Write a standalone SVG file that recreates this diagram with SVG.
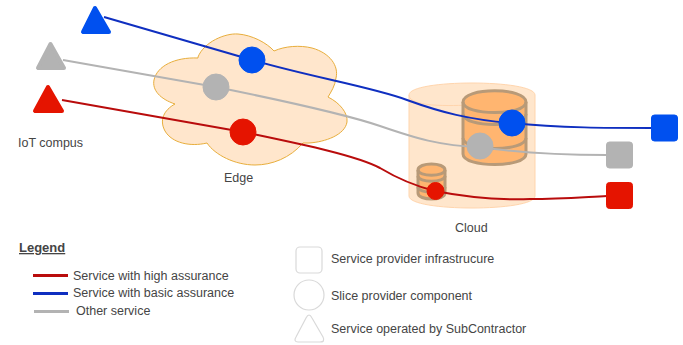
<svg xmlns="http://www.w3.org/2000/svg" width="683" height="345" viewBox="0 0 683 345">
<style>
text{font-family:"Liberation Sans",Arial,sans-serif;font-size:12.500px;fill:#454545}
.wire{fill:none;stroke-width:2}
.lg{fill:none;stroke-width:3}
.r{stroke:#b90c0c}.b{stroke:#0f2fc0}.g{stroke:#b3b3b3}
.fr{fill:#e51400;stroke:#e51400}.fb{fill:#0050ef;stroke:#0050ef}.fg{fill:#b3b3b3;stroke:#b3b3b3}
.tri{stroke-width:4;stroke-linejoin:round}
.db{fill:#ffb570;stroke:#b89a78;stroke-width:3}
.dbl{fill:none;stroke:#b89a78;stroke-width:3}
.key{fill:#fff;stroke:#d9d9d9;stroke-width:1.2}
</style>
<rect width="683" height="345" fill="#fff"/>
<g id="edge-cloud"><path d="M198 57C204 42 225 33 238 34C252 35 267 43 274 51C285 46 300 45 312 48C330 53 339 66 336 78C335 86 331 92 328 97C340 103 348 113 347 122C345 135 325 142 309 143L303 143C290 158 272 165 255 165C235 165 215 155 207 143C190 147 172 143 165 131C159 120 164 110 175 104C160 99 152 90 154 80C157 66 175 57 198 58Z" fill="#ffe6cc" stroke="#e8ae3c" stroke-width="1"/></g>
<g id="cloud-cylinder"><path d="M409 95C409 79 535 79 535 95V196C535 212 409 212 409 196Z" fill="#ffe6cc" stroke="#ffd5ad" stroke-width="1"/><path d="M409 95C409 109 463 105 472 105" fill="none" stroke="#ffd5ad"/></g>
<g id="db-large"><path class="db" d="M463 102C463 87 526 87 526 102V154C526 168 463 168 463 154Z"/><path class="dbl" d="M463 102C463 116 526 116 526 102M463 114C463 128 526 128 526 114M463 138C463 152 526 152 526 138"/></g>
<g id="db-small"><path class="db" d="M418 170C418 162 445 162 445 170V193C445 201 418 201 418 193Z"/><path class="dbl" d="M418 170C418 177 445 177 445 170M418 176C418 183 445 183 445 176M418 187C418 194 445 194 445 187"/></g>
<g id="connectors">
<path class="wire b" d="M104 17L252 60C310 77 372 87 407 100C440 112 470 120 512 123C560 128 610 128 652 128"/>
<path class="wire g" d="M63 60L216 87C290 102 345 114 380 126C415 138 440 146 480 147C520 153 565 155 607 155"/>
<path class="wire r" d="M62 100L243 132C300 144 355 155 380 168C400 180 415 186 435 191C470 198 500 200 530 199C560 199 585 197 607 196"/>
</g>
<g id="tri-blue"><path class="tri fb" d="M95 8L83 32H109Z"/></g>
<g id="tri-gray"><path class="tri fg" d="M50.500 44L38 68H64Z"/></g>
<g id="tri-red"><path class="tri fr" d="M48 87L35 111H62Z"/></g>
<g id="c-blue-edge"><circle class="fb" cx="252" cy="60" r="13"/></g>
<g id="c-gray-edge"><circle class="fg" cx="216" cy="87" r="13"/></g>
<g id="c-red-edge"><circle class="fr" cx="243" cy="132" r="13"/></g>
<g id="c-blue-cloud"><circle class="fb" cx="512" cy="123" r="13"/></g>
<g id="c-gray-cloud"><circle class="fg" cx="480" cy="146" r="13"/></g>
<g id="c-red-cloud"><circle class="fr" cx="435.500" cy="191" r="8.500"/></g>
<g id="sq-blue"><rect class="fb" x="651.500" y="115" width="26" height="26" rx="3"/></g>
<g id="sq-gray"><rect class="fg" x="606.500" y="142" width="26" height="26" rx="3"/></g>
<g id="sq-red"><rect class="fr" x="606.500" y="182.500" width="26" height="26" rx="3"/></g>
<g id="labels">
<text x="18" y="147">IoT compus</text>
<text x="224" y="182">Edge</text>
<text x="455" y="232">Cloud</text>
</g>
<g id="legend">
<text x="19" y="252" style="font-weight:700;font-size:13px;text-decoration:underline">Legend</text>
<path class="lg r" d="M33 275.500H68"/>
<path class="lg b" d="M33 293.500H68"/>
<path class="lg g" d="M34 311.500H69"/>
<text x="73" y="280">Service with high assurance</text>
<text x="73" y="297">Service with basic assurance</text>
<text x="76" y="315">Other service</text>
<rect class="key" x="296" y="247" width="26" height="26" rx="4"/>
<circle class="key" cx="309" cy="295" r="15"/>
<path class="key" stroke-linejoin="round" d="M306 318C308 314 310 314 312 318L323 337C325 341 323 342 320 342H298C295 342 294 340 296 337Z"/>
<text x="331" y="263">Service provider infrastrucure</text>
<text x="331" y="300">Slice provider component</text>
<text x="331" y="333">Service operated by SubContractor</text>
</g>
</svg>
